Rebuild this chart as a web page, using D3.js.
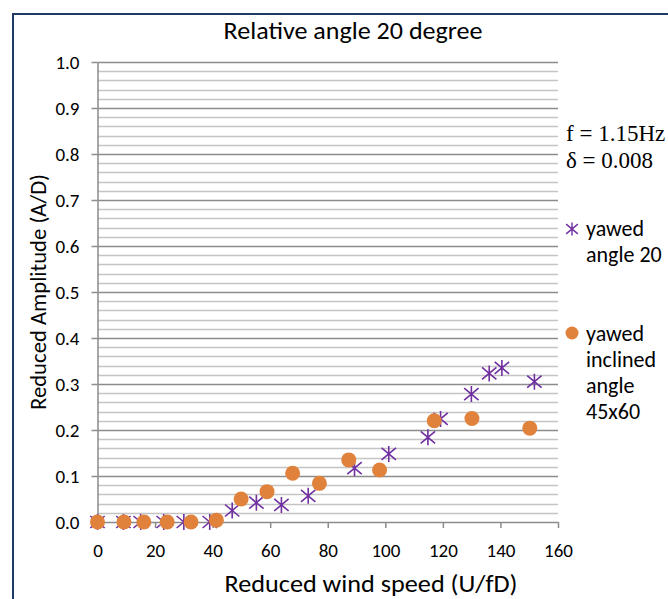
<!DOCTYPE html>
<html>
<head>
<meta charset="utf-8">
<script src="https://cdn.jsdelivr.net/npm/d3@7"></script>
<style>
  body { margin: 0; background: #fff; }
  text { font-family: Carlito, Lato, "Open Sans", sans-serif; fill: #000; }
</style>
</head>
<body>
<svg id="chart"></svg>
<script>
// yawed angle 20 (stars)
var starSpeed = [0, 9, 15, 23, 30, 39, 46.8, 55.2, 63.9, 73.2, 89.3, 101.2, 114.8, 119.2, 129.9, 136.1, 140.5, 151.8];
var starAmp   = [0, 0, 0, 0, 0, 0, 0.025, 0.042, 0.037, 0.057, 0.117, 0.148, 0.184, 0.224, 0.278, 0.323, 0.335, 0.305];

// yawed inclined angle 45x60 (circles)
var circleSpeed = [0, 9.2, 16.1, 24.2, 32.5, 41.3, 49.9, 58.9, 67.8, 77.1, 87.3, 98.0, 117.0, 130.1, 150.2];
var circleAmp   = [0, 0, 0, 0, 0, 0.004, 0.050, 0.066, 0.106, 0.084, 0.135, 0.113, 0.220, 0.225, 0.204];

var xTicks = [0, 20, 40, 60, 80, 100, 120, 140, 160];
var yTicks = [0, 0.1, 0.2, 0.3, 0.4, 0.5, 0.6, 0.7, 0.8, 0.9, 1.0];

var title = 'Relative angle 20 degree';
var xTitle = 'Reduced wind speed (U/fD)';
var yTitle = 'Reduced Amplitude (A/D)';
var noteLines = ['f = 1.15Hz', '\u03B4 = 0.008'];
var starLabel = ['yawed', 'angle 20'];
var circleLabel = ['yawed', 'inclined', 'angle', '45x60'];

var width = 668,
    height = 599;

var purple = '#7030a0',
    orange = '#e0823c';

var svg = d3.select('#chart')
    .attr('width', width)
    .attr('height', height);

// chart frame, runs off the right and bottom of the picture
svg.append('rect')
    .attr('x', 13).attr('y', 14)
    .attr('width', 700).attr('height', 650)
    .attr('fill', '#fff')
    .attr('stroke', '#1f3b64')
    .attr('stroke-width', 2);

var x = d3.scaleLinear().domain([0, 160]).range([97.5, 558]);
var y = d3.scaleLinear().domain([0, 1]).range([522, 62]);

// minor gridlines every 0.02
var minor = d3.range(0, 1.0001, 0.02).filter(function(v) {
  return Math.abs(Math.round(v * 10) - v * 10) > 1e-6;
});
svg.append('g').selectAll('line')
    .data(minor)
    .enter().append('line')
    .attr('x1', x(0)).attr('x2', x(160))
    .attr('y1', function(d) { return Math.round(y(d)) + 0.5; })
    .attr('y2', function(d) { return Math.round(y(d)) + 0.5; })
    .attr('stroke', '#c4c4c4')
    .attr('stroke-width', 1.5);

// major gridlines
svg.append('g').selectAll('line')
    .data(yTicks.slice(1))
    .enter().append('line')
    .attr('x1', x(0)).attr('x2', x(160))
    .attr('y1', function(d) { return Math.round(y(d)) + 0.5; })
    .attr('y2', function(d) { return Math.round(y(d)) + 0.5; })
    .attr('stroke', '#8c8c8c')
    .attr('stroke-width', 1.5);

var yAxis = d3.axisLeft(y)
    .tickValues(yTicks)
    .tickFormat(d3.format('.1f'))
    .tickSizeInner(6)
    .tickSizeOuter(0)
    .tickPadding(12);

var gy = svg.append('g')
    .attr('transform', 'translate(' + x(0) + ',0)')
    .call(yAxis);

var xAxis = d3.axisBottom(x)
    .tickValues(xTicks)
    .tickFormat(d3.format('d'))
    .tickSizeInner(6)
    .tickSizeOuter(0)
    .tickPadding(16);

var gx = svg.append('g')
    .attr('transform', 'translate(0,' + y(0) + ')')
    .call(xAxis);

[gx, gy].forEach(function(g) {
  g.attr('font-family', 'Carlito, Lato, sans-serif').attr('font-size', 19);
  g.selectAll('path, line').attr('stroke', '#8c8c8c').attr('stroke-width', 1.5);
  g.selectAll('text').attr('fill', '#000');
});

// star marker: X plus a vertical bar
function starPath(s) {
  var h = s / 2, dx = h * 0.9, dy = h * 0.75;
  return 'M0,' + (-h) + 'L0,' + h +
         'M' + (-dx) + ',' + (-dy) + 'L' + dx + ',' + dy +
         'M' + (-dx) + ',' + dy + 'L' + dx + ',' + (-dy);
}

svg.append('g').selectAll('path')
    .data(d3.zip(starSpeed, starAmp))
    .enter().append('path')
    .attr('transform', function(d) { return 'translate(' + x(d[0]) + ',' + y(d[1]) + ')'; })
    .attr('d', starPath(16))
    .attr('fill', 'none')
    .attr('stroke', purple)
    .attr('stroke-width', 1.6);

svg.append('g').selectAll('circle')
    .data(d3.zip(circleSpeed, circleAmp))
    .enter().append('circle')
    .attr('cx', function(d) { return x(d[0]); })
    .attr('cy', function(d) { return y(d[1]); })
    .attr('r', 7.5)
    .attr('fill', orange);

// titles
svg.append('text')
    .attr('x', 353).attr('y', 39)
    .attr('text-anchor', 'middle')
    .style('font-size', '24px')
    .attr('textLength', 259)
    .attr('lengthAdjust', 'spacingAndGlyphs')
    .text(title);

svg.append('text')
    .attr('x', 371).attr('y', 592)
    .attr('text-anchor', 'middle')
    .style('font-size', '25px')
    .attr('textLength', 293)
    .attr('lengthAdjust', 'spacingAndGlyphs')
    .text(xTitle);

svg.append('text')
    .attr('transform', 'translate(46,292) rotate(-90)')
    .attr('text-anchor', 'middle')
    .style('font-size', '23px')
    .attr('textLength', 236)
    .attr('lengthAdjust', 'spacingAndGlyphs')
    .text(yTitle);

// note at the right
svg.append('g').selectAll('text')
    .data(noteLines)
    .enter().append('text')
    .attr('x', 566)
    .attr('y', function(d, i) { return 141 + i * 27; })
    .style('font-family', '"Liberation Serif", "Times New Roman", serif')
    .style('font-size', '23px')
    .text(function(d) { return d; });

// legend
var leg = svg.append('g');
leg.append('path')
    .attr('transform', 'translate(572,229)')
    .attr('d', starPath(13))
    .attr('fill', 'none')
    .attr('stroke', purple)
    .attr('stroke-width', 1.4);
leg.selectAll('text.s')
    .data(starLabel)
    .enter().append('text')
    .attr('class', 's')
    .attr('x', 586)
    .attr('y', function(d, i) { return 236 + i * 26; })
    .style('font-size', '22px')
    .text(function(d) { return d; });

leg.append('circle')
    .attr('cx', 572).attr('cy', 333)
    .attr('r', 6.5)
    .attr('fill', orange);
leg.selectAll('text.c')
    .data(circleLabel)
    .enter().append('text')
    .attr('class', 'c')
    .attr('x', 586)
    .attr('y', function(d, i) { return 341 + i * 26; })
    .style('font-size', '22px')
    .text(function(d) { return d; });
</script>
</body>
</html>
